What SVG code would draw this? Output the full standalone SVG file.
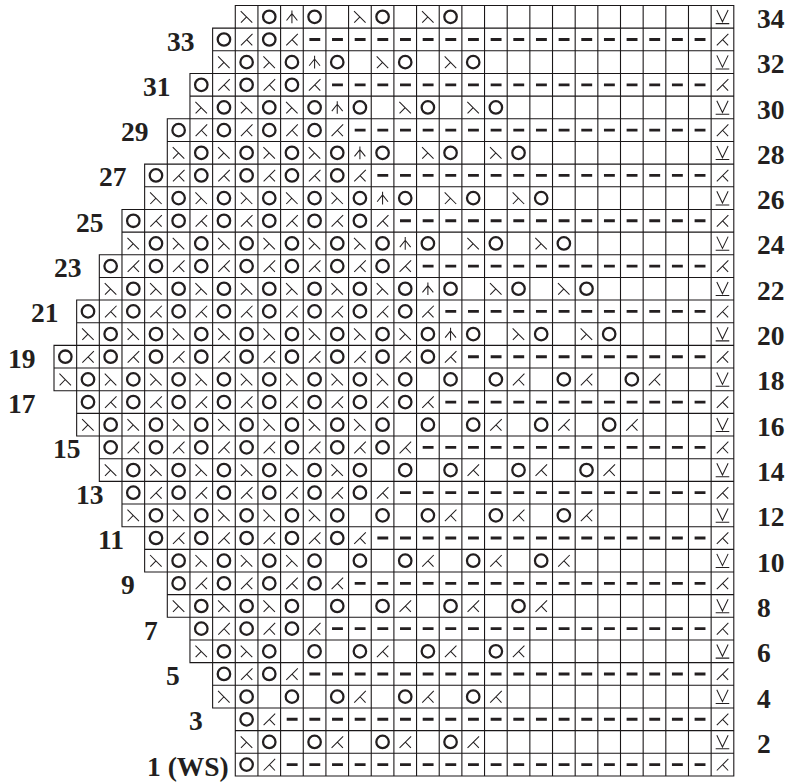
<svg xmlns="http://www.w3.org/2000/svg" width="786" height="782" viewBox="0 0 786 782">
<style>
.g{fill:none;stroke:#1a1718;stroke-width:.048;stroke-linecap:square}
.t{fill:none;stroke:#231f20;stroke-width:.046}
.c{fill:none;stroke:#231f20;stroke-width:.1}
.p{fill:none;stroke:#231f20;stroke-width:.125;stroke-dasharray:.48 .52}
text{font-family:"Liberation Serif","Times New Roman",serif;font-weight:bold;font-size:27.5px;fill:#231f20}
</style>
<defs>
<circle id="o" class="c" cx=".5" cy=".5" r=".275"/>
<path id="s" class="t" d="M.24 .25L.75 .76M.5 .505L.25 .76"/>
<path id="k" class="t" d="M.76 .25L.25 .76M.505 .505L.75 .76"/>
<path id="c" class="t" d="M.5 .22V.78M.26 .66L.5 .36L.74 .66"/>
<path id="v" class="t" d="M.25 .2L.5 .72L.75 .2M.2 .8H.8"/>
<g id="so"><use href="#s"/><use href="#o" x="1"/></g>
<g id="ok"><use href="#o"/><use href="#k" x="1"/></g>
</defs>
<rect width="786" height="782" fill="#fff"/>
<g id="chart" transform="translate(54 5.5) scale(22.66)">
<path id="grid" class="g" d="M8 0V34M9 0V34M10 0V34M11 0V34M12 0V34M13 0V34M14 0V34M15 0V34M16 0V34M17 0V34M18 0V34M19 0V34M20 0V34M21 0V34M22 0V34M23 0V34M24 0V34M25 0V34M26 0V34M27 0V34M28 0V34M29 0V34M30 0V34M7 1V31M6 3V29M5 5V27M4 7V25M3 9V23M2 11V21M1 13V19M0 15V17M8 0H30M7 1H30M7 2H30M6 3H30M6 4H30M5 5H30M5 6H30M4 7H30M4 8H30M3 9H30M3 10H30M2 11H30M2 12H30M1 13H30M1 14H30M0 15H30M0 16H30M0 17H30M1 18H30M1 19H30M2 20H30M2 21H30M3 22H30M3 23H30M4 24H30M4 25H30M5 26H30M5 27H30M6 28H30M6 29H30M7 30H30M7 31H30M8 32H30M8 33H30M8 34H30"/>
<g id="r34"><use href="#so" x="8" y="0"/><use href="#c" x="10" y="0"/><use href="#o" x="11" y="0"/><use href="#so" x="13" y="0"/><use href="#so" x="16" y="0"/><use href="#v" x="29" y="0"/></g>
<g id="r33"><use href="#ok" x="7" y="1"/><use href="#ok" x="9" y="1"/><path class="p" d="M11.27 1.5H28.75"/><use href="#k" x="29" y="1"/></g>
<g id="r32"><use href="#so" x="7" y="2"/><use href="#so" x="9" y="2"/><use href="#c" x="11" y="2"/><use href="#o" x="12" y="2"/><use href="#so" x="14" y="2"/><use href="#so" x="17" y="2"/><use href="#v" x="29" y="2"/></g>
<g id="r31"><use href="#ok" x="6" y="3"/><use href="#ok" x="8" y="3"/><use href="#ok" x="10" y="3"/><path class="p" d="M12.27 3.5H28.75"/><use href="#k" x="29" y="3"/></g>
<g id="r30"><use href="#so" x="6" y="4"/><use href="#so" x="8" y="4"/><use href="#so" x="10" y="4"/><use href="#c" x="12" y="4"/><use href="#o" x="13" y="4"/><use href="#so" x="15" y="4"/><use href="#so" x="18" y="4"/><use href="#v" x="29" y="4"/></g>
<g id="r29"><use href="#ok" x="5" y="5"/><use href="#ok" x="7" y="5"/><use href="#ok" x="9" y="5"/><use href="#ok" x="11" y="5"/><path class="p" d="M13.27 5.5H28.75"/><use href="#k" x="29" y="5"/></g>
<g id="r28"><use href="#so" x="5" y="6"/><use href="#so" x="7" y="6"/><use href="#so" x="9" y="6"/><use href="#so" x="11" y="6"/><use href="#c" x="13" y="6"/><use href="#o" x="14" y="6"/><use href="#so" x="16" y="6"/><use href="#so" x="19" y="6"/><use href="#v" x="29" y="6"/></g>
<g id="r27"><use href="#ok" x="4" y="7"/><use href="#ok" x="6" y="7"/><use href="#ok" x="8" y="7"/><use href="#ok" x="10" y="7"/><use href="#ok" x="12" y="7"/><path class="p" d="M14.27 7.5H28.75"/><use href="#k" x="29" y="7"/></g>
<g id="r26"><use href="#so" x="4" y="8"/><use href="#so" x="6" y="8"/><use href="#so" x="8" y="8"/><use href="#so" x="10" y="8"/><use href="#so" x="12" y="8"/><use href="#c" x="14" y="8"/><use href="#o" x="15" y="8"/><use href="#so" x="17" y="8"/><use href="#so" x="20" y="8"/><use href="#v" x="29" y="8"/></g>
<g id="r25"><use href="#ok" x="3" y="9"/><use href="#ok" x="5" y="9"/><use href="#ok" x="7" y="9"/><use href="#ok" x="9" y="9"/><use href="#ok" x="11" y="9"/><use href="#ok" x="13" y="9"/><path class="p" d="M15.27 9.5H28.75"/><use href="#k" x="29" y="9"/></g>
<g id="r24"><use href="#so" x="3" y="10"/><use href="#so" x="5" y="10"/><use href="#so" x="7" y="10"/><use href="#so" x="9" y="10"/><use href="#so" x="11" y="10"/><use href="#so" x="13" y="10"/><use href="#c" x="15" y="10"/><use href="#o" x="16" y="10"/><use href="#so" x="18" y="10"/><use href="#so" x="21" y="10"/><use href="#v" x="29" y="10"/></g>
<g id="r23"><use href="#ok" x="2" y="11"/><use href="#ok" x="4" y="11"/><use href="#ok" x="6" y="11"/><use href="#ok" x="8" y="11"/><use href="#ok" x="10" y="11"/><use href="#ok" x="12" y="11"/><use href="#ok" x="14" y="11"/><path class="p" d="M16.27 11.5H28.75"/><use href="#k" x="29" y="11"/></g>
<g id="r22"><use href="#so" x="2" y="12"/><use href="#so" x="4" y="12"/><use href="#so" x="6" y="12"/><use href="#so" x="8" y="12"/><use href="#so" x="10" y="12"/><use href="#so" x="12" y="12"/><use href="#so" x="14" y="12"/><use href="#c" x="16" y="12"/><use href="#o" x="17" y="12"/><use href="#so" x="19" y="12"/><use href="#so" x="22" y="12"/><use href="#v" x="29" y="12"/></g>
<g id="r21"><use href="#ok" x="1" y="13"/><use href="#ok" x="3" y="13"/><use href="#ok" x="5" y="13"/><use href="#ok" x="7" y="13"/><use href="#ok" x="9" y="13"/><use href="#ok" x="11" y="13"/><use href="#ok" x="13" y="13"/><use href="#ok" x="15" y="13"/><path class="p" d="M17.27 13.5H28.75"/><use href="#k" x="29" y="13"/></g>
<g id="r20"><use href="#so" x="1" y="14"/><use href="#so" x="3" y="14"/><use href="#so" x="5" y="14"/><use href="#so" x="7" y="14"/><use href="#so" x="9" y="14"/><use href="#so" x="11" y="14"/><use href="#so" x="13" y="14"/><use href="#so" x="15" y="14"/><use href="#c" x="17" y="14"/><use href="#o" x="18" y="14"/><use href="#so" x="20" y="14"/><use href="#so" x="23" y="14"/><use href="#v" x="29" y="14"/></g>
<g id="r19"><use href="#ok" x="0" y="15"/><use href="#ok" x="2" y="15"/><use href="#ok" x="4" y="15"/><use href="#ok" x="6" y="15"/><use href="#ok" x="8" y="15"/><use href="#ok" x="10" y="15"/><use href="#ok" x="12" y="15"/><use href="#ok" x="14" y="15"/><use href="#ok" x="16" y="15"/><path class="p" d="M18.27 15.5H28.75"/><use href="#k" x="29" y="15"/></g>
<g id="r18"><use href="#so" x="0" y="16"/><use href="#so" x="2" y="16"/><use href="#so" x="4" y="16"/><use href="#so" x="6" y="16"/><use href="#so" x="8" y="16"/><use href="#so" x="10" y="16"/><use href="#so" x="12" y="16"/><use href="#so" x="14" y="16"/><use href="#o" x="17" y="16"/><use href="#ok" x="19" y="16"/><use href="#ok" x="22" y="16"/><use href="#ok" x="25" y="16"/><use href="#v" x="29" y="16"/></g>
<g id="r17"><use href="#ok" x="1" y="17"/><use href="#ok" x="3" y="17"/><use href="#ok" x="5" y="17"/><use href="#ok" x="7" y="17"/><use href="#ok" x="9" y="17"/><use href="#ok" x="11" y="17"/><use href="#ok" x="13" y="17"/><use href="#ok" x="15" y="17"/><path class="p" d="M17.27 17.5H28.75"/><use href="#k" x="29" y="17"/></g>
<g id="r16"><use href="#so" x="1" y="18"/><use href="#so" x="3" y="18"/><use href="#so" x="5" y="18"/><use href="#so" x="7" y="18"/><use href="#so" x="9" y="18"/><use href="#so" x="11" y="18"/><use href="#so" x="13" y="18"/><use href="#o" x="16" y="18"/><use href="#ok" x="18" y="18"/><use href="#ok" x="21" y="18"/><use href="#ok" x="24" y="18"/><use href="#v" x="29" y="18"/></g>
<g id="r15"><use href="#ok" x="2" y="19"/><use href="#ok" x="4" y="19"/><use href="#ok" x="6" y="19"/><use href="#ok" x="8" y="19"/><use href="#ok" x="10" y="19"/><use href="#ok" x="12" y="19"/><use href="#ok" x="14" y="19"/><path class="p" d="M16.27 19.5H28.75"/><use href="#k" x="29" y="19"/></g>
<g id="r14"><use href="#so" x="2" y="20"/><use href="#so" x="4" y="20"/><use href="#so" x="6" y="20"/><use href="#so" x="8" y="20"/><use href="#so" x="10" y="20"/><use href="#so" x="12" y="20"/><use href="#o" x="15" y="20"/><use href="#ok" x="17" y="20"/><use href="#ok" x="20" y="20"/><use href="#ok" x="23" y="20"/><use href="#v" x="29" y="20"/></g>
<g id="r13"><use href="#ok" x="3" y="21"/><use href="#ok" x="5" y="21"/><use href="#ok" x="7" y="21"/><use href="#ok" x="9" y="21"/><use href="#ok" x="11" y="21"/><use href="#ok" x="13" y="21"/><path class="p" d="M15.27 21.5H28.75"/><use href="#k" x="29" y="21"/></g>
<g id="r12"><use href="#so" x="3" y="22"/><use href="#so" x="5" y="22"/><use href="#so" x="7" y="22"/><use href="#so" x="9" y="22"/><use href="#so" x="11" y="22"/><use href="#o" x="14" y="22"/><use href="#ok" x="16" y="22"/><use href="#ok" x="19" y="22"/><use href="#ok" x="22" y="22"/><use href="#v" x="29" y="22"/></g>
<g id="r11"><use href="#ok" x="4" y="23"/><use href="#ok" x="6" y="23"/><use href="#ok" x="8" y="23"/><use href="#ok" x="10" y="23"/><use href="#ok" x="12" y="23"/><path class="p" d="M14.27 23.5H28.75"/><use href="#k" x="29" y="23"/></g>
<g id="r10"><use href="#so" x="4" y="24"/><use href="#so" x="6" y="24"/><use href="#so" x="8" y="24"/><use href="#so" x="10" y="24"/><use href="#o" x="13" y="24"/><use href="#ok" x="15" y="24"/><use href="#ok" x="18" y="24"/><use href="#ok" x="21" y="24"/><use href="#v" x="29" y="24"/></g>
<g id="r9"><use href="#ok" x="5" y="25"/><use href="#ok" x="7" y="25"/><use href="#ok" x="9" y="25"/><use href="#ok" x="11" y="25"/><path class="p" d="M13.27 25.5H28.75"/><use href="#k" x="29" y="25"/></g>
<g id="r8"><use href="#so" x="5" y="26"/><use href="#so" x="7" y="26"/><use href="#so" x="9" y="26"/><use href="#o" x="12" y="26"/><use href="#ok" x="14" y="26"/><use href="#ok" x="17" y="26"/><use href="#ok" x="20" y="26"/><use href="#v" x="29" y="26"/></g>
<g id="r7"><use href="#ok" x="6" y="27"/><use href="#ok" x="8" y="27"/><use href="#ok" x="10" y="27"/><path class="p" d="M12.27 27.5H28.75"/><use href="#k" x="29" y="27"/></g>
<g id="r6"><use href="#so" x="6" y="28"/><use href="#so" x="8" y="28"/><use href="#o" x="11" y="28"/><use href="#ok" x="13" y="28"/><use href="#ok" x="16" y="28"/><use href="#ok" x="19" y="28"/><use href="#v" x="29" y="28"/></g>
<g id="r5"><use href="#ok" x="7" y="29"/><use href="#ok" x="9" y="29"/><path class="p" d="M11.27 29.5H28.75"/><use href="#k" x="29" y="29"/></g>
<g id="r4"><use href="#so" x="7" y="30"/><use href="#o" x="10" y="30"/><use href="#ok" x="12" y="30"/><use href="#ok" x="15" y="30"/><use href="#ok" x="18" y="30"/><use href="#v" x="29" y="30"/></g>
<g id="r3"><use href="#ok" x="8" y="31"/><path class="p" d="M10.27 31.5H28.75"/><use href="#k" x="29" y="31"/></g>
<g id="r2"><use href="#so" x="8" y="32"/><use href="#ok" x="11" y="32"/><use href="#ok" x="14" y="32"/><use href="#ok" x="17" y="32"/><use href="#v" x="29" y="32"/></g>
<g id="r1"><use href="#ok" x="8" y="33"/><path class="p" d="M10.27 33.5H28.75"/><use href="#k" x="29" y="33"/></g>
</g>
<g id="labels-left">
<text x="167" y="50.5">33</text>
<text x="143" y="95.8">31</text>
<text x="121" y="141.1">29</text>
<text x="99" y="186.4">27</text>
<text x="76" y="231.8">25</text>
<text x="54" y="277.1">23</text>
<text x="31" y="322.4">21</text>
<text x="8" y="367.7">19</text>
<text x="8" y="413">17</text>
<text x="53" y="458.4">15</text>
<text x="76" y="503.7">13</text>
<text x="98" y="549">11</text>
<text x="121" y="594.3">9</text>
<text x="144" y="639.6">7</text>
<text x="166" y="685">5</text>
<text x="189" y="730.3">3</text>
<text x="147" y="775.6">1 (WS)</text>
</g>
<g id="labels-right">
<text x="757" y="27.8">34</text>
<text x="757" y="73.2">32</text>
<text x="757" y="118.5">30</text>
<text x="757" y="163.8">28</text>
<text x="757" y="209.1">26</text>
<text x="757" y="254.4">24</text>
<text x="757" y="299.8">22</text>
<text x="757" y="345.1">20</text>
<text x="757" y="390.4">18</text>
<text x="757" y="435.7">16</text>
<text x="757" y="481">14</text>
<text x="757" y="526.4">12</text>
<text x="757" y="571.7">10</text>
<text x="757" y="617">8</text>
<text x="757" y="662.3">6</text>
<text x="757" y="707.6">4</text>
<text x="757" y="753">2</text>
</g>
</svg>
